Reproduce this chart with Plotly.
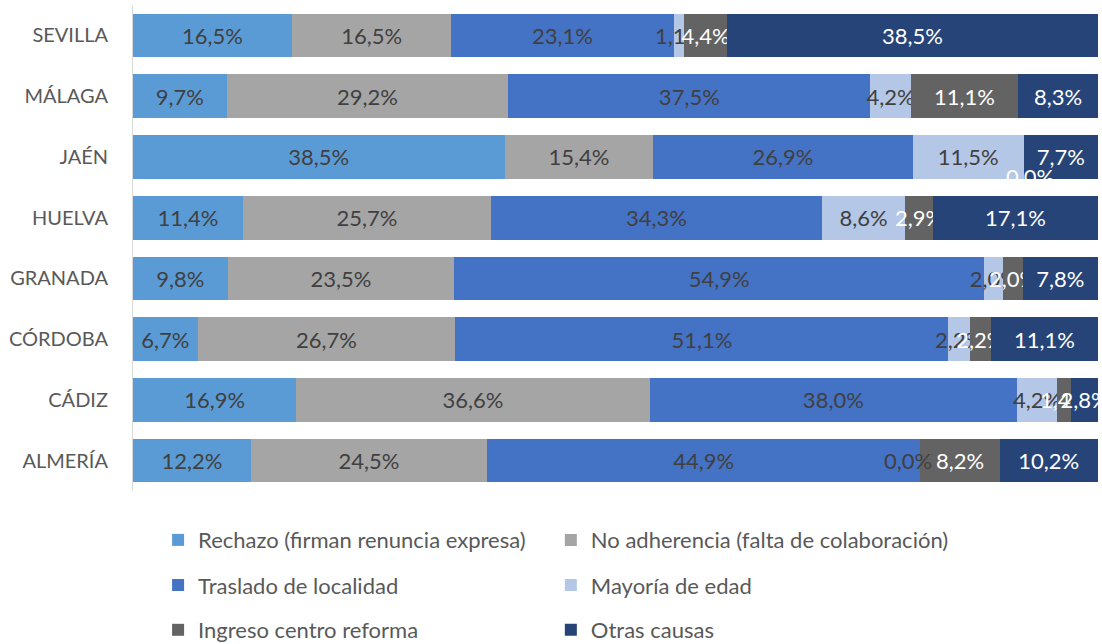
import plotly.graph_objects as go

# Provinces, top to bottom as drawn
provincias = ["SEVILLA", "MÁLAGA", "JAÉN", "HUELVA", "GRANADA", "CÓRDOBA", "CÁDIZ", "ALMERÍA"]

# Percentages per cause (same order as provincias)
rechazo = [16.5, 9.7, 38.5, 11.4, 9.8, 6.7, 16.9, 12.2]
no_adherencia = [16.5, 29.2, 15.4, 25.7, 23.5, 26.7, 36.6, 24.5]
traslado = [23.1, 37.5, 26.9, 34.3, 54.9, 51.1, 38.0, 44.9]
mayoria_edad = [1.1, 4.2, 11.5, 8.6, 2.0, 2.2, 4.2, 0.0]
ingreso_reforma = [4.4, 11.1, 0.0, 2.9, 2.0, 2.2, 1.4, 8.2]
otras = [38.5, 8.3, 7.7, 17.1, 7.8, 11.1, 2.8, 10.2]

series = [
    ("Rechazo (firman renuncia expresa)", rechazo, "#5B9BD5", "#404040"),
    ("No adherencia (falta de colaboración)", no_adherencia, "#A5A5A5", "#404040"),
    ("Traslado de localidad", traslado, "#4472C4", "#404040"),
    ("Mayoría de edad", mayoria_edad, "#B4C7E7", "#404040"),
    ("Ingreso centro reforma", ingreso_reforma, "#636363", "#FFFFFF"),
    ("Otras causas", otras, "#264478", "#FFFFFF"),
]

FONT = "Lato"
SIZE = 22


def fmt(v):
    return f"{v:.1f}%".replace(".", ",")


fig = go.Figure()
annotations = []
legends = {}
cum = [0.0] * len(provincias)
for k, (name, vals, color, tcolor) in enumerate(series):
    # one legend per entry so the 2-column grid can be placed like the original
    leg = "legend" if k == 0 else f"legend{k + 1}"
    legends[leg] = dict(
        orientation="h", xanchor="left", yanchor="middle",
        x=[0.026, 0.433][k % 2], y=[-0.101, -0.194, -0.286][k // 2],
        bgcolor="rgba(0,0,0,0)", font=dict(family=FONT, size=SIZE, color="#595959"))
    fig.add_trace(go.Bar(
        y=provincias, x=vals, name=name, orientation="h",
        marker=dict(color=color, line=dict(width=0)),
        text=[fmt(v) if v > 0 else "" for v in vals],
        textposition="inside", insidetextanchor="middle", textangle=0,
        insidetextfont=dict(color=tcolor, size=SIZE, family=FONT),
        cliponaxis=False, legend=leg, showlegend=True,
    ))
    # zero-width segments still get a label in the original
    for i, v in enumerate(vals):
        if v == 0:
            total = sum(s[1][i] for s in series)
            jaen = provincias[i] == "JAÉN"
            annotations.append(dict(
                x=cum[i] / total * 100, y=provincias[i], text=fmt(v),
                showarrow=False, xref="x", yref="y",
                font=dict(color="#FFFFFF" if jaen else tcolor, size=SIZE, family=FONT),
                yshift=-20 if jaen else 0,
                xshift=6 if jaen else -12,
            ))
    cum = [c + v for c, v in zip(cum, vals)]

fig.update_layout(
    width=1102, height=644, showlegend=True,
    barmode="stack", barnorm="percent", bargap=0.28,
    plot_bgcolor="white", paper_bgcolor="white",
    margin=dict(l=133, r=4, t=5, b=153, autoexpand=False),
    font=dict(family=FONT, size=SIZE, color="#595959"),
    uniformtext=dict(mode="show", minsize=SIZE),
    xaxis=dict(range=[0, 100], visible=False),
    yaxis=dict(autorange="reversed", showline=True, linecolor="#D9D9D9", linewidth=1,
               ticks="", ticklabelstandoff=20, showgrid=False, automargin=False,
               tickfont=dict(family=FONT, size=20, color="#595959")),
    annotations=annotations,
    **legends,
)

# drop the browser's default 8px body margin so the figure sits at the page corner
fig.write_html("out.html", config={"displayModeBar": False},
               post_script="document.body.style.margin='0px';")
